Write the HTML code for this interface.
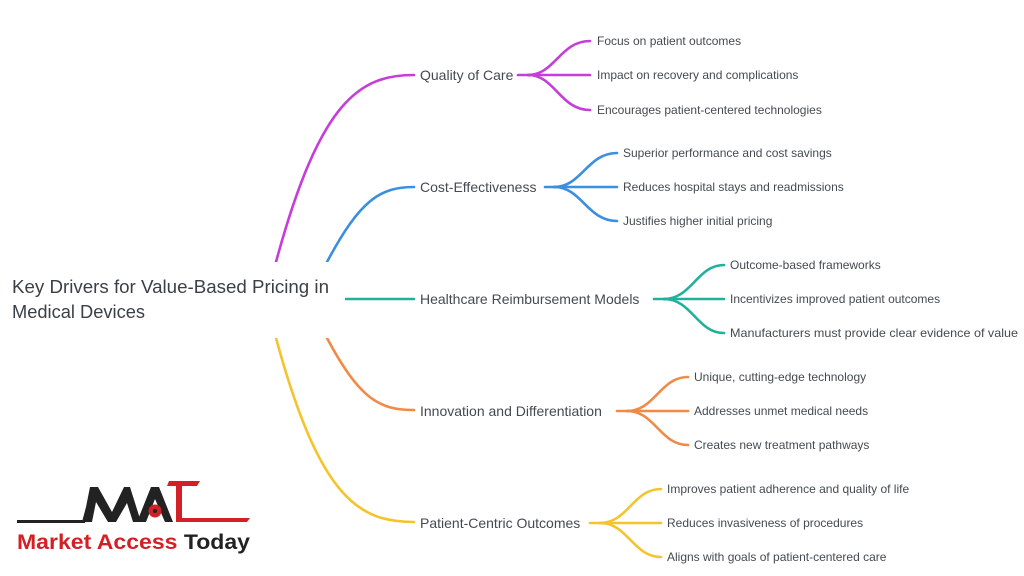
<!DOCTYPE html>
<html><head><meta charset="utf-8"><style>
html,body{margin:0;padding:0;background:#fff;}
body{width:1024px;height:576px;overflow:hidden;position:relative;font-family:"Liberation Sans",sans-serif;}
svg{position:absolute;left:0;top:0;}
.m{font-size:14px;fill:#454a52;}
.s{font-size:12px;fill:#454a52;}
</style></head><body>
<svg width="1024" height="576" viewBox="0 0 1024 576">
<g fill="none" stroke-width="2.6" stroke-linecap="round">
<g stroke="#c43ed8">
<path d="M276 262 C320 100 360 75 414 75"/>
<path d="M518 75 L535 75"/>
<path d="M528 75 C555 75 560 41 590 41"/>
<path d="M528 75 L590 75"/>
<path d="M528 75 C555 75 560 110 590 110"/>
</g>
<g stroke="#3b8fe0">
<path d="M327 262 C360 200 380 187 414 187"/>
<path d="M545 187 L560 187"/>
<path d="M554 187 C582 187 587 153 617 153"/>
<path d="M554 187 L617 187"/>
<path d="M554 187 C582 187 587 221 617 221"/>
</g>
<g stroke="#22b09d">
<path d="M345 299 L414 299"/>
<path d="M654 299 L672 299"/>
<path d="M664 299 C692 299 697 265 724 265"/>
<path d="M664 299 L724 299"/>
<path d="M664 299 C692 299 697 333 724 333"/>
</g>
<g stroke="#ef8a47">
<path d="M327 338 C360 400 380 410 414 410"/>
<path d="M617 411 L634 411"/>
<path d="M627 411 C655 411 660 377 688 377"/>
<path d="M627 411 L688 411"/>
<path d="M627 411 C655 411 660 445 688 445"/>
</g>
<g stroke="#f5c42c">
<path d="M276 338 C320 500 360 522 414 522"/>
<path d="M590 523 L607 523"/>
<path d="M600 523 C628 523 633 489 661 489"/>
<path d="M600 523 L661 523"/>
<path d="M600 523 C628 523 633 557 661 557"/>
</g>
</g>
<rect x="0" y="262" width="345" height="76" fill="#fff"/>
<text x="12" y="293" font-size="18" fill="#3b4048" textLength="317" lengthAdjust="spacingAndGlyphs">Key Drivers for Value-Based Pricing in</text>
<text x="12" y="318" font-size="18" fill="#3b4048" textLength="133" lengthAdjust="spacingAndGlyphs">Medical Devices</text>
<text class="m" x="420" y="80">Quality of Care</text>
<text class="m" x="420" y="192">Cost-Effectiveness</text>
<text class="m" x="420" y="304">Healthcare Reimbursement Models</text>
<text class="m" x="420" y="416">Innovation and Differentiation</text>
<text class="m" x="420" y="528">Patient-Centric Outcomes</text>
<text class="s" x="597" y="45">Focus on patient outcomes</text>
<text class="s" x="597" y="79">Impact on recovery and complications</text>
<text class="s" x="597" y="114">Encourages patient-centered technologies</text>
<text class="s" x="623" y="157">Superior performance and cost savings</text>
<text class="s" x="623" y="191">Reduces hospital stays and readmissions</text>
<text class="s" x="623" y="225">Justifies higher initial pricing</text>
<text class="s" x="730" y="269">Outcome-based frameworks</text>
<text class="s" x="730" y="303">Incentivizes improved patient outcomes</text>
<text class="s" x="730" y="337" textLength="288" lengthAdjust="spacingAndGlyphs">Manufacturers must provide clear evidence of value</text>
<text class="s" x="694" y="381">Unique, cutting-edge technology</text>
<text class="s" x="694" y="415">Addresses unmet medical needs</text>
<text class="s" x="694" y="449">Creates new treatment pathways</text>
<text class="s" x="667" y="493">Improves patient adherence and quality of life</text>
<text class="s" x="667" y="527">Reduces invasiveness of procedures</text>
<text class="s" x="667" y="561">Aligns with goals of patient-centered care</text>
<g>
<path d="M17 520 L85 520 L85 523 L17 523 Z" fill="#222"/>
<path d="M82 522 L86 507 L90 487 L98 487 L112 512 L124 487 L130 487 L141 522 L133 522 L127 503 L116 522 L108 522 L96 502 L92 522 Z" fill="#222"/>
<path d="M137 522 L151 487 L159 487 L173 522 L165 522 L155 499 L146 522 Z" fill="#222"/>
<circle cx="155" cy="511" r="6.5" fill="#d32027"/>
<circle cx="155" cy="511" r="2" fill="#222"/>
<path d="M169 481 L200 481 L197 486 L182 486 L182 518 L250 518 L247 522 L176 522 L176 486 L167 486 Z" fill="#d32027"/>
<text x="17" y="549" font-size="21" font-weight="bold" textLength="233" lengthAdjust="spacingAndGlyphs"><tspan fill="#d32027">Market Access </tspan><tspan fill="#222">Today</tspan></text>
</g>
</svg>
</body></html>
